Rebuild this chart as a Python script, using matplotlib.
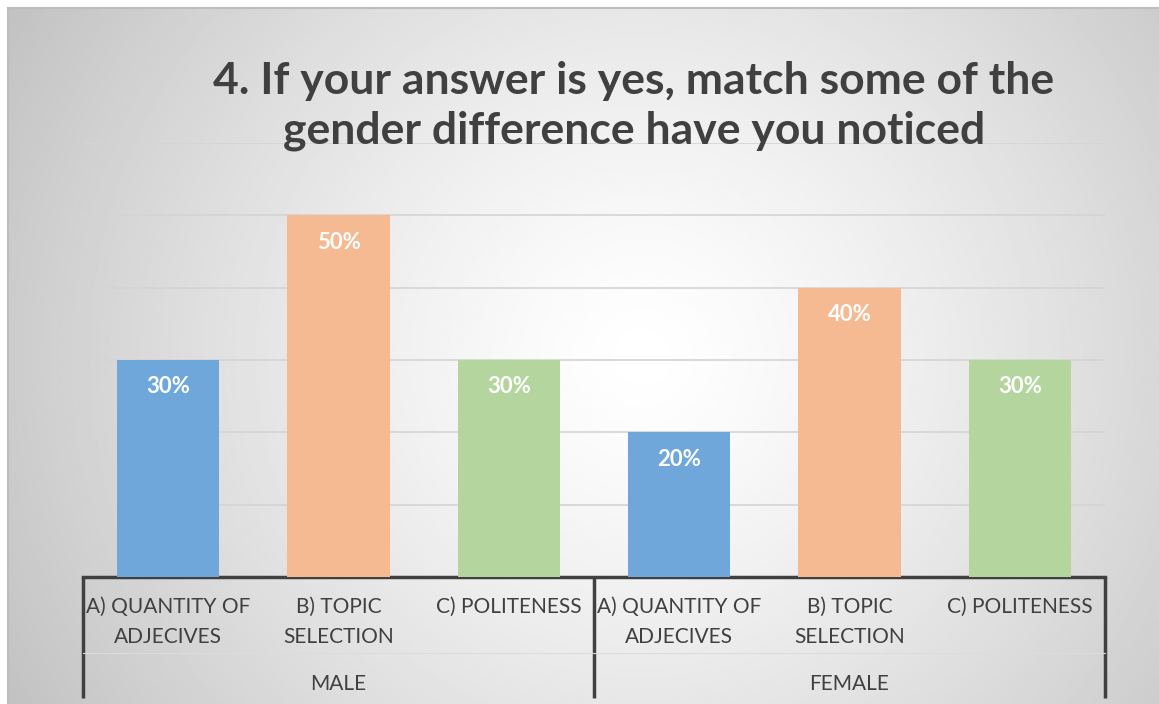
import numpy as np
import matplotlib
matplotlib.use('Agg')
import matplotlib.pyplot as plt
import matplotlib.transforms as mtransforms

plt.rcParams['font.family'] = ['Lato', 'DejaVu Sans']

# datos
grupos = ['MALE', 'FEMALE']
categorias = ['A) QUANTITY OF\nADJECIVES', 'B) TOPIC\nSELECTION', 'C) POLITENESS']
valores_male = [0.30, 0.50, 0.30]
valores_female = [0.20, 0.40, 0.30]
colores = ['#6FA7DB', '#F5BA92', '#B4D69E']

W, H = 1159, 704
fig = plt.figure(figsize=(W / 100, H / 100), dpi=100)

# fondo con degradado radial
bg = fig.add_axes([8 / W, 0, 1 - 8 / W, 1 - 8 / H])
yy, xx = np.mgrid[0:300, 0:500]
cx, cy = 0.55 * 500, 0.50 * 300
r = np.sqrt(((xx - cx) / 500) ** 2 + ((yy - cy) / 300 * 0.62) ** 2)
r = r / r.max()
img = 1.0 - 0.24 * np.clip(r, 0, 1) ** 1.3
bg.imshow(img, cmap='gray', vmin=0, vmax=1, aspect='auto', extent=[0, 1, 0, 1])
bg.set_xticks([])
bg.set_yticks([])
for s in ['right', 'bottom']:
    bg.spines[s].set_visible(False)
for s in ['top', 'left']:
    bg.spines[s].set_color('#bdbdbd')
    bg.spines[s].set_linewidth(1.5)

ax = fig.add_axes([83 / W, (H - 577) / H, (1105 - 83) / W, (577 - 143) / H])
ax.patch.set_alpha(0)

valores = valores_male + valores_female
x = np.arange(len(valores))
bars = ax.bar(x, valores, width=0.6, color=colores * 2, zorder=3)

for b, v in zip(bars, valores):
    ax.text(b.get_x() + b.get_width() / 2, v - 0.037, f'{v * 100:.0f}%',
            ha='center', va='center', color='white', fontsize=16, fontweight='bold', zorder=4)

ax.set_xlim(-0.5, len(valores) - 0.5)
ax.set_ylim(0, 0.6)
ax.set_yticks(np.arange(0, 0.61, 0.1))
ax.yaxis.grid(True, color='#d4d4d4', linewidth=1.2)
ax.set_axisbelow(True)
ax.tick_params(left=False, labelleft=False, bottom=False, labelbottom=False)
for s in ['top', 'right', 'left']:
    ax.spines[s].set_visible(False)
ax.spines['bottom'].set_color('#404040')
ax.spines['bottom'].set_linewidth(2.5)

# eje de categorías en dos niveles
trans = mtransforms.blended_transform_factory(ax.transData, ax.transAxes)
px = 1 / (577 - 143)
for xs in [-0.5, 2.5, 5.5]:
    ax.plot([xs, xs], [0, -121 * px], transform=trans, color='#404040', lw=2.5,
            clip_on=False, solid_capstyle='butt')
ax.plot([-0.5, 5.5], [-76 * px, -76 * px], transform=trans, color='#dcdcdc', lw=0.8, clip_on=False)

for i, cat in enumerate(categorias * 2):
    ax.text(i, -20 * px, cat, transform=trans, ha='center', va='top', fontsize=15,
            color='#404040', linespacing=1.6, multialignment='center')
for j, g in enumerate(grupos):
    ax.text(1 + 3 * j, -107 * px, g, transform=trans, ha='center', va='center',
            fontsize=15, color='#404040')

fig.text(634 / W, 1 - 106 / H,
         '4. If your answer is yes, match some of the\ngender difference have you noticed',
         ha='center', va='center', fontsize=32, fontweight='bold', color='#404040',
         linespacing=1.3)

fig.savefig('out.png', dpi=100)
